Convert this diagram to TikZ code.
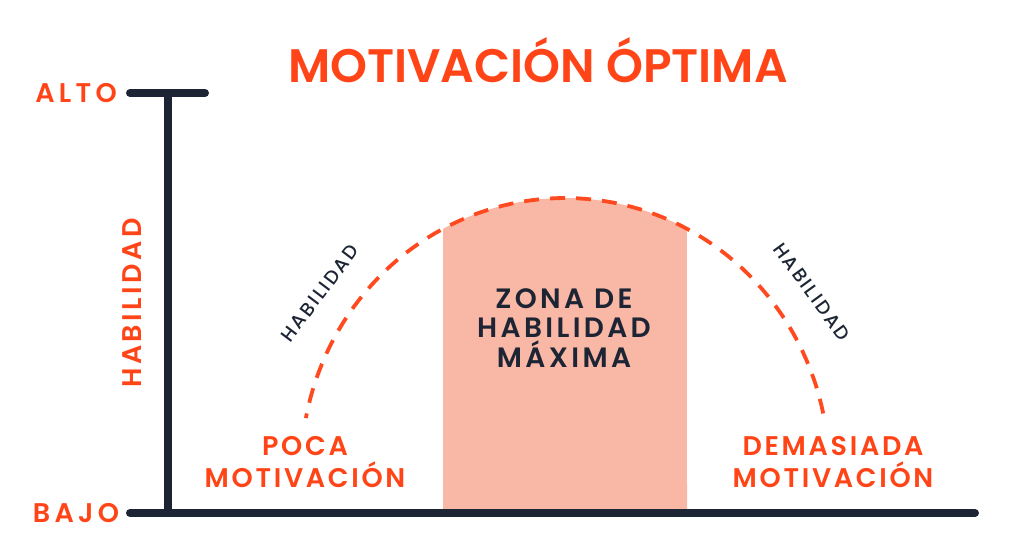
\documentclass[tikz,border=0pt]{standalone}
\usepackage{fontspec}
\setmainfont{Poppins}[BoldFont={Poppins SemiBold}]
\newfontfamily\pmed{Poppins Medium}
\definecolor{orng}{HTML}{FF4517}
\definecolor{dsh}{HTML}{FF4A1F}
\definecolor{navy}{HTML}{1D2535}
\definecolor{zone}{HTML}{F9B8A5}
\begin{document}
\begin{tikzpicture}[x=1pt,y=-1pt,
  axis/.style={draw=navy,line width=8pt,line cap=round},
  curve/.style={draw=dsh,line width=3.8pt,dash pattern=on 15pt off 11pt},
  otext/.style={text=orng,font=\bfseries\fontsize{27}{32}\selectfont\addfontfeatures{LetterSpace=10},inner sep=0pt,align=center},
  ntext/.style={text=navy,font=\bfseries\fontsize{28}{29.5}\selectfont\addfontfeatures{LetterSpace=12},inner sep=0pt,align=center},
  small/.style={text=navy,font=\pmed\fontsize{19}{21}\selectfont\addfontfeatures{LetterSpace=12},inner sep=0pt}]
\useasboundingbox (0,0) rectangle (1014,542);
% zone
\fill[zone] (443,510) -- plot[domain=62.5:117.5,samples=40] ({565-264*cos(\x)},{470-272*sin(\x)}) -- (687,510) -- cycle;
% dashed curve
\draw[curve] plot[domain=12:169,samples=80] ({565+264*cos(\x)},{470-272*sin(\x)});
% axes
\coordinate (tl) at (130,93);
\coordinate (tr) at (205,93);
\coordinate (ytop) at (168,93);
\coordinate (orig) at (168,513);
\coordinate (bl) at (130,513);
\coordinate (xend) at (975,513);
\draw[axis] (tl) -- (tr);
\draw[axis] (ytop) -- (orig);
\draw[axis] (bl) -- (xend);
% texts
\node[text=orng,inner sep=0pt,font=\bfseries\fontsize{47}{50}\selectfont,anchor=base] (title) at (538,82) {MOTIVACIÓN ÓPTIMA};
\node[otext,anchor=base,font=\bfseries\fontsize{27}{32}\selectfont\addfontfeatures{LetterSpace=16}] (alto) at (76,102) {ALTO};
\node[otext,anchor=base,font=\bfseries\fontsize{27}{32}\selectfont\addfontfeatures{LetterSpace=16}] (bajo) at (76,522) {BAJO};
\node[otext,rotate=90,font=\bfseries\fontsize{27}{32}\selectfont\addfontfeatures{LetterSpace=13}] (hab) at (132,303) {HABILIDAD};
\node[ntext,anchor=base] (zona) at (564,367) {ZONA DE\\HABILIDAD\\MÁXIMA};
\node[small,rotate=53] (habl) at (320,293) {HABILIDAD};
\node[small,rotate=-54] (habr) at (812,292) {HABILIDAD};
\node[otext,anchor=base] (poca) at (305,487) {POCA\\MOTIVACIÓN};
\node[otext,anchor=base] (dem) at (833,487) {DEMASIADA\\MOTIVACIÓN};
\end{tikzpicture}
\end{document}
